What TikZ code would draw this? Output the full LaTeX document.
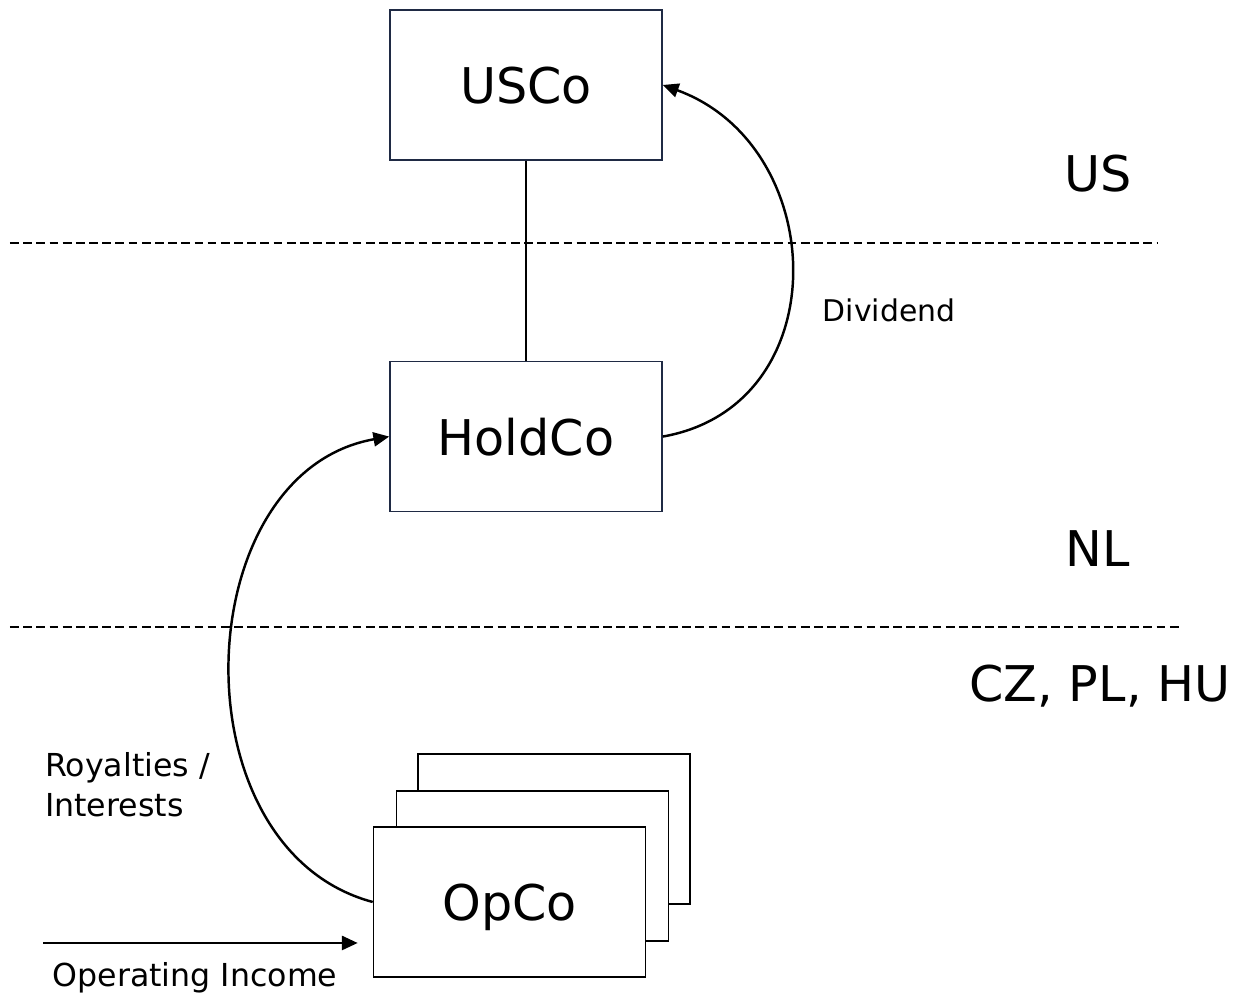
\documentclass[tikz,border=0pt]{standalone}
\usepackage{fontspec}
\setmainfont{DejaVu Sans}
\usepackage{xcolor}
\usepackage{tikz}
\usetikzlibrary{arrows.meta,positioning}

\definecolor{boxblue}{HTML}{1F2A44}

\begin{document}
\begin{tikzpicture}
        [
            entity/.style = {draw = boxblue, line width = 0.9pt, fill = white, minimum width = 5.44cm, minimum height = 3cm, inner sep = 0pt, text depth = 0pt, font = \fontsize{28}{34}\selectfont},
            opbox/.style = {entity, draw = black},
            tie/.style = {line width = 0.8pt},
            flow/.style = {line width = 1.4pt, -{Triangle[length = 9pt, width = 8pt]}},
            border/.style = {line width = 0.8pt, dash pattern = on 5pt off 2.5pt},
            region/.style = {anchor = base, font = \fontsize{28}{34}\selectfont},
            lbl/.style = {align = left, font = \fontsize{18}{22.8}\selectfont}]
        \useasboundingbox (0,0) rectangle (24.7,19.9);
        \node[entity] (us) at (10.52,18.2) {USCo};
        \node[entity, below = 4cm of us] (hold) {HoldCo};
        \node[opbox] (op3) at (11.08,3.32) {};
        \node[opbox] (op2) at (10.65,2.58) {};
        \node[opbox] (op1) at (10.19,1.86) {OpCo};
        \draw[border] (0.2,15.04) -- (23.14,15.04);
        \draw[border] (0.2,7.36) -- (23.64,7.36);
        \node[region] (usreg) at (21.96,16.06) {US};
        \node[region] (nlreg) at (21.96,8.56) {NL};
        \node[region] (cereg) at (22.0,5.86) {CZ, PL, HU};
        \draw[tie] (us) -- (hold);
        \draw[flow] (hold.east) to[out = 10, in = -20, looseness = 1.3] (us.east);
        \node[lbl, font = \fontsize{17}{22}\selectfont] (divlbl) at (17.78,13.7) {Dividend};
        \draw[flow] (op1.west) to[out = 165, in = 190, looseness = 1.13] (hold.west);
        \node[lbl, anchor = base west] (roylbl) at (0.78,3.56) {Royalties /\\Interests};
        \coordinate (inc) at (0.86,1.04);
        \draw[flow, shorten > = 0.3cm] (inc) -- (inc -| op1.west);
        \node[lbl, anchor = base] (inclbl) at (3.9,0.17) {Operating Income};
    \end{tikzpicture}
\end{document}
